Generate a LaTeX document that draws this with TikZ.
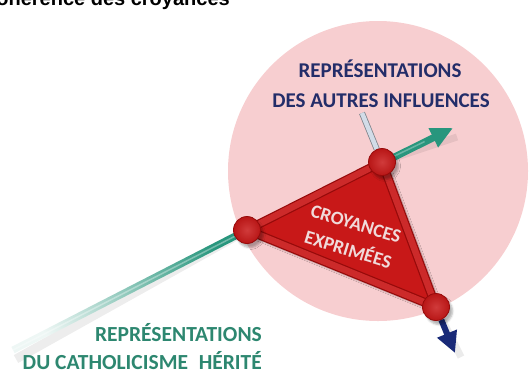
\documentclass[tikz,border=0pt]{standalone}
\usepackage{fontspec}
\setmainfont{Carlito}
\newfontfamily\titrefont{Liberation Sans}
\usetikzlibrary{arrows.meta,calc,backgrounds,shadows.blur}

\definecolor{disque}{RGB}{247,206,208}
\definecolor{encre}{RGB}{35,45,105}
\definecolor{sarcelle}{RGB}{40,150,125}
\definecolor{sarcelletxt}{RGB}{45,135,112}
\definecolor{marine}{RGB}{25,42,120}
\definecolor{gris}{RGB}{210,220,232}
\definecolor{rouge}{RGB}{200,24,24}
\definecolor{rougefonce}{RGB}{150,10,10}
\definecolor{rosepale}{RGB}{240,218,218}

\begin{document}
\begin{tikzpicture}[x = 1pt, y = -1pt]
    \tikzstyle{sommet} = [circle, draw = rougefonce, line width = .8pt, inner color = rouge!85!white, outer color = rouge!92!black, minimum size = 27pt, inner sep = 0pt, blur shadow = {shadow xshift = 3pt, shadow yshift = -4pt, shadow opacity = 30}];
    \tikzstyle{arete} = [draw = rougefonce, double = rouge!92!white, double distance = 6.5pt, line width = 1.2pt, line cap = round, line join = round];
    \tikzstyle{etiquette} = [font = \bfseries\fontsize{21}{21}\selectfont, inner sep = 0pt];
    \useasboundingbox (0,0) rectangle (529,373);
    % points:
    \node[sommet] (v0) at (247,230){};
    \node[sommet] (v1) at (382,162){};
    \node[sommet] (v2) at (436,307){};
    \coordinate (g0) at (13,350);
    \coordinate (g1) at (453,128);
    \coordinate (b0) at (362,113);
    \coordinate (b1) at (455,353);
    % labels:
    \node[font = \titrefont\bfseries\fontsize{20}{20}\selectfont, anchor = base east, inner sep = 0pt] (titre) at (230,5){Cohérence des croyances};
    \node[etiquette, text = encre, anchor = base] (autres1) at (380,77){REPRÉSENTATIONS};
    \node[etiquette, text = encre, anchor = base] (autres2) at (381,107){DES AUTRES INFLUENCES};
    \node[etiquette, text = sarcelletxt, anchor = base east, font = \bfseries\fontsize{21.5}{21.5}\selectfont] (herite1) at (262,341){REPRÉSENTATIONS};
    \node[etiquette, text = sarcelletxt, anchor = base east, font = \bfseries\fontsize{21.5}{21.5}\selectfont] (herite2) at (262,369){DU CATHOLICISME\hspace{.5em}HÉRITÉ};
    \node[font = \bfseries\fontsize{19}{27}\selectfont, text = rosepale, align = center, rotate = -17] (croyances) at (352,237){CROYANCES\\EXPRIMÉES};
    % lines:
    \begin{scope}[on background layer]
        \fill[disque] (378,171) circle (150);
        % green axis
        \draw[black, opacity = .07, line width = 9pt] ([shift = {(3,9)}]g0) -- ([shift = {(3,9)}]v0);
        \draw[black, opacity = .07, line width = 7pt] ([shift = {(4,9)}]v1) -- ([shift = {(4,9)}]g1);
        \shade[bottom color = sarcelle!8!white, top color = sarcelle, shading angle = -45] ($(g0)!3.5pt!90:(v0)$) -- ($(v0)!3.5pt!-90:(g0)$) -- ($(v0)!3.5pt!90:(g0)$) -- ($(g0)!3.5pt!-90:(v0)$) -- cycle;
        \draw[white, opacity = .35, line width = 1.5pt] (g0) -- (v0);
        \draw[sarcelle, line width = 7pt, -{Triangle[length = 22pt, width = 20pt]}] (v0) -- (g1);
        \draw[white, opacity = .3, line width = 1.5pt] (v1) -- ($(v1)!.6!(g1)$);
        % grey and blue axis
        \draw[draw = gris!60!black, double = gris, double distance = 4.5pt, line width = .8pt] (b0) -- (v1);
        \draw[black, opacity = .08, line width = 7pt] ([shift = {(6,4)}]v2) -- ([shift = {(6,4)}]b1);
        \draw[marine, line width = 6pt, -{Triangle[length = 21pt, width = 20pt]}] (v2) -- (b1);
        % triangle
        \fill[rouge, blur shadow = {shadow xshift = 8pt, shadow yshift = -8pt, shadow opacity = 35, shadow blur steps = 10}] (v0.center) -- (v1.center) -- (v2.center) -- cycle;
        \draw[arete] (v0.center) -- (v1.center) -- (v2.center) -- cycle;
    \end{scope}
\end{tikzpicture}
\end{document}
